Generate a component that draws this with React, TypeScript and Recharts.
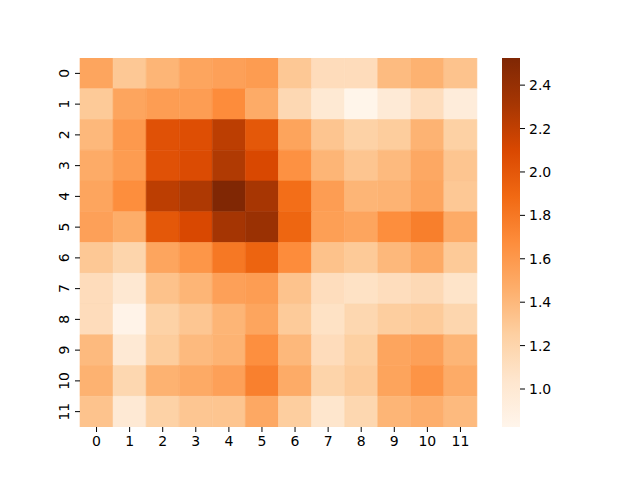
import React from "react";
import { BarChart, Bar, XAxis, YAxis, Cell } from "recharts";

// heatmap values, one list per row (row 0 on top)
const heatRows = [
  [1.52, 1.3, 1.42, 1.52, 1.55, 1.58, 1.3, 1.13, 1.13, 1.38, 1.44, 1.33],
  [1.29, 1.52, 1.57, 1.57, 1.68, 1.48, 1.17, 1.0, 0.83, 0.98, 1.12, 0.95],
  [1.4, 1.6, 2.04, 2.06, 2.22, 2.0, 1.53, 1.32, 1.23, 1.27, 1.43, 1.24],
  [1.48, 1.58, 2.04, 2.08, 2.27, 2.1, 1.65, 1.42, 1.32, 1.39, 1.5, 1.32],
  [1.52, 1.67, 2.22, 2.28, 2.52, 2.31, 1.86, 1.57, 1.42, 1.43, 1.52, 1.3],
  [1.55, 1.47, 2.0, 2.1, 2.32, 2.38, 1.91, 1.56, 1.52, 1.67, 1.76, 1.48],
  [1.3, 1.2, 1.52, 1.62, 1.8, 1.92, 1.68, 1.34, 1.29, 1.4, 1.49, 1.29],
  [1.13, 1.01, 1.34, 1.42, 1.55, 1.57, 1.33, 1.12, 1.08, 1.12, 1.16, 1.06],
  [1.13, 0.85, 1.23, 1.31, 1.42, 1.52, 1.28, 1.08, 1.18, 1.26, 1.28, 1.19],
  [1.39, 0.99, 1.27, 1.39, 1.43, 1.66, 1.4, 1.13, 1.25, 1.52, 1.55, 1.42],
  [1.44, 1.18, 1.44, 1.49, 1.55, 1.75, 1.48, 1.21, 1.28, 1.53, 1.63, 1.48],
  [1.33, 0.99, 1.23, 1.31, 1.32, 1.5, 1.26, 1.04, 1.18, 1.42, 1.46, 1.39],
];
const colLabels = ["0", "1", "2", "3", "4", "5", "6", "7", "8", "9", "10", "11"];
const rowTicks = [0.5, 1.5, 2.5, 3.5, 4.5, 5.5, 6.5, 7.5, 8.5, 9.5, 10.5, 11.5];
const cbarTicks = [1.0, 1.2, 1.4, 1.6, 1.8, 2.0, 2.2, 2.4];
const vmin = 0.825;
const vmax = 2.525;

// matplotlib "Oranges"
const oranges = [
  "#fff5eb", "#fee6ce", "#fdd0a2", "#fdae6b", "#fd8d3c",
  "#f16913", "#d94801", "#a63603", "#7f2704",
];

const hexToRgb = (h: string) => [
  parseInt(h.slice(1, 3), 16),
  parseInt(h.slice(3, 5), 16),
  parseInt(h.slice(5, 7), 16),
];

const colorFor = (v: number) => {
  let t = (v - vmin) / (vmax - vmin);
  t = Math.max(0, Math.min(1, t));
  const pos = t * (oranges.length - 1);
  const i = Math.min(Math.floor(pos), oranges.length - 2);
  const f = pos - i;
  const a = hexToRgb(oranges[i]);
  const b = hexToRgb(oranges[i + 1]);
  const c = a.map((x, k) => Math.round(x + (b[k] - x) * f));
  return `rgb(${c[0]},${c[1]},${c[2]})`;
};

const tableData = colLabels.map((c) => {
  const row: any = { col: c };
  heatRows.forEach((_, i) => {
    row[`r${i}`] = 1;
  });
  return row;
});

const cbarData = [{ name: "cb", range: [vmin, vmax] }];

const font = "DejaVu Sans, sans-serif";
const tickStyle = { fontSize: 14, fill: "#000", fontFamily: font };

const RowTick = (props: any) => {
  const { x, y, payload } = props;
  const tx = x - 4;
  return (
    <text
      x={tx}
      y={y}
      transform={`rotate(-90 ${tx} ${y})`}
      textAnchor="middle"
      style={tickStyle}
    >
      {String(payload.value - 0.5)}
    </text>
  );
};

export default function App() {
  return (
    <div
      style={{
        position: "absolute",
        left: 0,
        top: 0,
        width: 640,
        height: 480,
        background: "#fff",
      }}
    >
      <div style={{ position: "absolute", left: 0, top: 0 }}>
        <BarChart
          width={640}
          height={480}
          data={tableData}
          margin={{ top: 58, right: 163, left: 40, bottom: 23 }}
          barCategoryGap={0}
          barGap={0}
        >
          <XAxis
            dataKey="col"
            axisLine={false}
            tickLine={{ stroke: "#000" }}
            tickSize={5}
            tickMargin={4}
            height={30}
            tick={tickStyle}
            interval={0}
          />
          <YAxis
            type="number"
            domain={[0, 12]}
            reversed
            ticks={rowTicks}
            axisLine={false}
            tickLine={{ stroke: "#000" }}
            tickSize={5}
            width={40}
            tick={<RowTick />}
            allowDataOverflow
          />
          {heatRows.map((vals, i) => (
            <Bar
              key={i}
              dataKey={`r${i}`}
              stackId="heat"
              isAnimationActive={false}
            >
              {vals.map((v, j) => (
                <Cell
                  key={j}
                  fill={colorFor(v)}
                  stroke={colorFor(v)}
                  strokeWidth={0.6}
                />
              ))}
            </Bar>
          ))}
        </BarChart>
      </div>
      <div style={{ position: "absolute", left: 0, top: 0 }}>
        <BarChart
          width={640}
          height={480}
          data={cbarData}
          margin={{ top: 58, right: 80, left: 502, bottom: 53 }}
          barCategoryGap={0}
        >
          <defs>
            <linearGradient id="orGrad" x1="0" y1="1" x2="0" y2="0">
              {oranges.map((c, k) => (
                <stop
                  key={k}
                  offset={`${(k / (oranges.length - 1)) * 100}%`}
                  stopColor={c}
                />
              ))}
            </linearGradient>
          </defs>
          <XAxis dataKey="name" hide />
          <YAxis
            orientation="right"
            type="number"
            domain={[vmin, vmax]}
            ticks={cbarTicks}
            tickFormatter={(v: number) => v.toFixed(1)}
            axisLine={false}
            tickLine={{ stroke: "#000" }}
            tickSize={5}
            tickMargin={4}
            width={40}
            tick={tickStyle}
            allowDataOverflow
          />
          <Bar dataKey="range" fill="url(#orGrad)" isAnimationActive={false} />
        </BarChart>
      </div>
    </div>
  );
}
